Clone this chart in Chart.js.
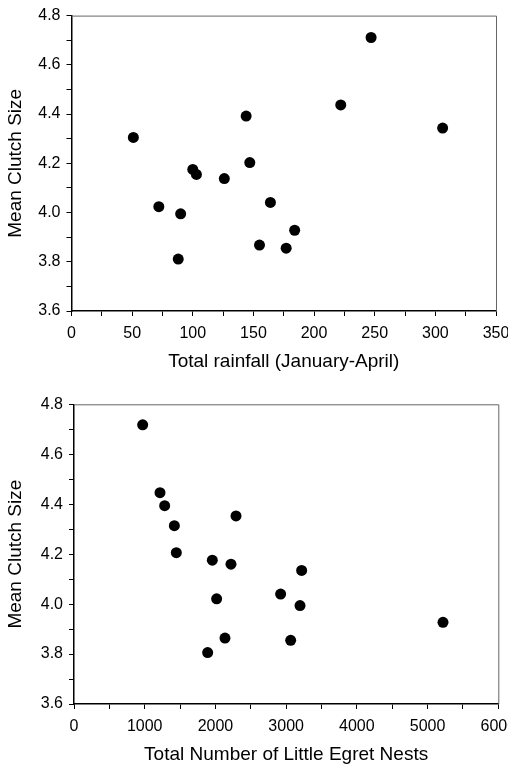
<!DOCTYPE html>
<html>
<head>
<meta charset="utf-8">
<script src="https://cdn.jsdelivr.net/npm/chart.js@4.4.1/dist/chart.umd.min.js"></script>
<style>
  html, body { margin: 0; padding: 0; background: #fff; overflow: hidden; width: 508px; height: 768px; }
  .wrap { position: absolute; left: 0; width: 540px; height: 384px; }
  canvas { display: block; }
</style>
</head>
<body>
<div class="wrap" style="top:0"><canvas id="c1" width="540" height="384"></canvas></div>
<div class="wrap" style="top:384px"><canvas id="c2" width="540" height="384"></canvas></div>
<script>
// Top panel: rainfall vs clutch size
const rainfall = [51, 100, 103, 126, 144, 147, 247, 222, 306, 164, 155, 184, 177, 72, 90, 88];
const clutchRain = [4.305, 4.175, 4.155, 4.138, 4.392, 4.203, 4.711, 4.437, 4.343, 4.041, 3.868, 3.928, 3.855, 4.024, 3.995, 3.811];
// Bottom panel: Little Egret nests vs clutch size
const nests = [971, 1216, 1282, 1419, 1447, 1956, 2220, 2291, 3219, 2017, 2135, 1890, 2922, 3196, 3064, 5218];
const clutchNests = [4.718, 4.446, 4.394, 4.314, 4.206, 4.176, 4.160, 4.353, 4.135, 4.021, 3.864, 3.806, 4.040, 3.994, 3.855, 3.927];

const yTicks = { min: 3.6, max: 4.8, step: 0.1, labelEvery: 0.2 };
const xTicksTop = { min: 0, max: 350, step: 25, labelEvery: 50 };
const xTicksBottom = { min: 0, max: 6000, step: 500, labelEvery: 1000 };

const yTitle = 'Mean Clutch Size';
const xTitleTop = 'Total rainfall (January-April)';
const xTitleBottom = 'Total Number of Little Egret Nests';

const FONT = "'Liberation Sans', Arial, Helvetica, sans-serif";

const framePlugin = {
  id: 'frame',
  afterDraw(chart) {
    const { ctx, chartArea: a } = chart;
    ctx.save();
    ctx.strokeStyle = '#666';
    ctx.lineWidth = 1;
    ctx.beginPath();
    ctx.moveTo(a.left, a.top + 0.5);
    ctx.lineTo(a.right + 0.5, a.top + 0.5);
    ctx.lineTo(a.right + 0.5, a.bottom);
    ctx.stroke();
    ctx.restore();
  }
};

function makeChart(id, xs, ys, xt, xTitle, geom) {
  const pts = xs.map((x, i) => ({ x: x, y: ys[i] }));
  return new Chart(document.getElementById(id), {
    type: 'scatter',
    data: { datasets: [{ data: pts, backgroundColor: '#000', borderColor: '#000', pointRadius: 5.5, pointHoverRadius: 5.5, borderWidth: 0 }] },
    options: {
      responsive: false,
      animation: false,
      events: [],
      layout: { padding: { top: geom.top, right: geom.right, bottom: 0, left: 0 } },
      plugins: { legend: { display: false }, tooltip: { enabled: false } },
      scales: {
        x: {
          type: 'linear',
          min: xt.min, max: xt.max,
          afterFit: s => { s.height = geom.xHeight; },
          border: { display: true, color: '#000', width: 1.5 },
          grid: { drawOnChartArea: false, drawTicks: true, tickLength: 5, color: '#000', lineWidth: 1 },
          ticks: {
            stepSize: xt.step, autoSkip: false, maxRotation: 0, padding: 8,
            color: '#000', font: { family: FONT, size: 16 },
            callback: v => (Math.round(v) % xt.labelEvery === 0 ? String(v) : '')
          },
          title: { display: true, text: xTitle, color: '#000', font: { family: FONT, size: 19 }, padding: { top: 0, bottom: geom.xTitlePad } }
        },
        y: {
          type: 'linear',
          min: yTicks.min, max: yTicks.max,
          afterFit: s => { s.width = geom.yWidth; },
          border: { display: true, color: '#000', width: 1.5 },
          grid: { drawOnChartArea: false, drawTicks: true, tickLength: 5, color: '#000', lineWidth: 1 },
          ticks: {
            stepSize: yTicks.step, autoSkip: false, padding: 6,
            color: '#000', font: { family: FONT, size: 16 },
            callback: v => (Math.round(v * 10) % 2 === 0 ? v.toFixed(1) : '')
          },
          title: { display: true, text: yTitle, color: '#000', font: { family: FONT, size: 19 }, padding: { top: 4, bottom: 0 } }
        }
      }
    },
    plugins: [framePlugin]
  });
}

makeChart('c1', rainfall, clutchRain, xTicksTop, xTitleTop,
  { top: 10, right: 44, yWidth: 71.5, xHeight: 73, xTitlePad: 11 });
makeChart('c2', nests, clutchNests, xTicksBottom, xTitleBottom,
  { top: 20.3, right: 41.7, yWidth: 74, xHeight: 64, xTitlePad: 2 });
</script>
</body>
</html>
